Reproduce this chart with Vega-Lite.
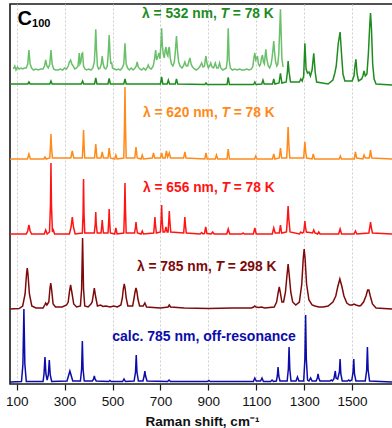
{
"$schema":"https://vega.github.io/schema/vega-lite/v6.json",
"width":384,"height":380,
"padding":{"left":5,"top":4,"right":3,"bottom":0},
"background":"white",
"config":{"view":{"stroke":"#1a1a1a","strokeWidth":1.6},"font":"Liberation Sans"},
"datasets":{
"spec":[
{"s":"b","x":72,"y":2},{"s":"b","x":120,"y":2.5},{"s":"b","x":126,"y":20},{"s":"b","x":130,"y":75},{"s":"b","x":134,"y":20},{"s":"b","x":140,"y":2.5},
{"s":"b","x":210,"y":2.5},{"s":"b","x":214,"y":10},{"s":"b","x":218,"y":27},{"s":"b","x":222,"y":10},{"s":"b","x":227,"y":4},{"s":"b","x":232,"y":9},{"s":"b","x":236,"y":24},{"s":"b","x":240,"y":9},{"s":"b","x":246,"y":2.5},
{"s":"b","x":310,"y":3},{"s":"b","x":316,"y":8},{"s":"b","x":322,"y":13},{"s":"b","x":328,"y":8},{"s":"b","x":334,"y":3},
{"s":"b","x":366,"y":3},{"s":"b","x":371,"y":15},{"s":"b","x":374,"y":43},{"s":"b","x":377,"y":15},{"s":"b","x":382,"y":3},
{"s":"b","x":416,"y":3},{"s":"b","x":421,"y":5},{"s":"b","x":424,"y":8},{"s":"b","x":427,"y":5},{"s":"b","x":432,"y":3},
{"s":"b","x":484,"y":2.5},{"s":"b","x":489,"y":3.5},{"s":"b","x":494,"y":2.5},
{"s":"b","x":542,"y":2.5},{"s":"b","x":548,"y":5},{"s":"b","x":554,"y":2.5},
{"s":"b","x":590,"y":3},{"s":"b","x":596,"y":12},{"s":"b","x":599,"y":29},{"s":"b","x":602,"y":12},{"s":"b","x":608,"y":3},
{"s":"b","x":627,"y":3},{"s":"b","x":632,"y":8},{"s":"b","x":635,"y":13},{"s":"b","x":638,"y":8},{"s":"b","x":644,"y":3},
{"s":"b","x":730,"y":2.5},{"s":"b","x":736,"y":4},{"s":"b","x":742,"y":2.5},
{"s":"b","x":896,"y":2.5},{"s":"b","x":902,"y":3.5},{"s":"b","x":908,"y":2.5},
{"s":"b","x":1088,"y":2.5},{"s":"b","x":1094,"y":6},{"s":"b","x":1100,"y":3},{"s":"b","x":1118,"y":3},{"s":"b","x":1124,"y":6},{"s":"b","x":1130,"y":2.5},
{"s":"b","x":1160,"y":2.5},{"s":"b","x":1166,"y":4},{"s":"b","x":1172,"y":2.5},
{"s":"b","x":1184,"y":3},{"s":"b","x":1188,"y":8},{"s":"b","x":1191,"y":17},{"s":"b","x":1194,"y":8},{"s":"b","x":1199,"y":3},
{"s":"b","x":1229,"y":3},{"s":"b","x":1234,"y":15},{"s":"b","x":1237,"y":37},{"s":"b","x":1240,"y":15},{"s":"b","x":1245,"y":3},
{"s":"b","x":1266,"y":3},{"s":"b","x":1272,"y":7},{"s":"b","x":1278,"y":3},
{"s":"b","x":1298,"y":3},{"s":"b","x":1303,"y":25},{"s":"b","x":1306,"y":69},{"s":"b","x":1309,"y":25},{"s":"b","x":1314,"y":4},{"s":"b","x":1320,"y":3},{"s":"b","x":1327,"y":6},{"s":"b","x":1333,"y":3},
{"s":"b","x":1350,"y":3},{"s":"b","x":1355,"y":6},{"s":"b","x":1358,"y":10},{"s":"b","x":1361,"y":6},{"s":"b","x":1366,"y":3},
{"s":"b","x":1408,"y":3},{"s":"b","x":1413,"y":4},{"s":"b","x":1418,"y":3},{"s":"b","x":1424,"y":5},{"s":"b","x":1430,"y":13},{"s":"b","x":1433,"y":6},{"s":"b","x":1440,"y":5},{"s":"b","x":1447,"y":12},{"s":"b","x":1450,"y":25},{"s":"b","x":1453,"y":10},{"s":"b","x":1459,"y":3},
{"s":"b","x":1481,"y":3},{"s":"b","x":1486,"y":4},{"s":"b","x":1491,"y":3},{"s":"b","x":1499,"y":4},{"s":"b","x":1504,"y":12},{"s":"b","x":1507,"y":25},{"s":"b","x":1510,"y":10},{"s":"b","x":1516,"y":3},
{"s":"b","x":1555,"y":3},{"s":"b","x":1561,"y":14},{"s":"b","x":1564,"y":37},{"s":"b","x":1567,"y":14},{"s":"b","x":1573,"y":3},{"s":"b","x":1675,"y":2},

{"s":"m","x":72,"y":75},{"s":"m","x":110,"y":75.5},{"s":"m","x":125,"y":78},{"s":"m","x":135,"y":90},{"s":"m","x":141,"y":110},{"s":"m","x":144,"y":116},{"s":"m","x":147,"y":110},{"s":"m","x":153,"y":90},{"s":"m","x":163,"y":78},{"s":"m","x":180,"y":76},{"s":"m","x":210,"y":76},{"s":"m","x":217,"y":79},{"s":"m","x":221,"y":81},{"s":"m","x":226,"y":79},{"s":"m","x":234,"y":82},{"s":"m","x":239,"y":96},{"s":"m","x":242,"y":101},{"s":"m","x":245,"y":96},{"s":"m","x":252,"y":80},{"s":"m","x":262,"y":77},{"s":"m","x":290,"y":77},{"s":"m","x":308,"y":79},{"s":"m","x":315,"y":82},{"s":"m","x":320,"y":92},{"s":"m","x":325,"y":99},{"s":"m","x":330,"y":92},{"s":"m","x":338,"y":80},{"s":"m","x":350,"y":77},{"s":"m","x":366,"y":78},{"s":"m","x":371,"y":95},{"s":"m","x":375,"y":146},{"s":"m","x":379,"y":95},{"s":"m","x":384,"y":78},{"s":"m","x":398,"y":77},{"s":"m","x":410,"y":80},{"s":"m","x":415,"y":82},{"s":"m","x":419,"y":88},{"s":"m","x":424,"y":96},{"s":"m","x":429,"y":88},{"s":"m","x":437,"y":78},{"s":"m","x":450,"y":79},{"s":"m","x":460,"y":77.5},{"s":"m","x":472,"y":78},{"s":"m","x":490,"y":77},{"s":"m","x":505,"y":78},{"s":"m","x":520,"y":77},{"s":"m","x":535,"y":79},{"s":"m","x":541,"y":86},{"s":"m","x":545,"y":95},{"s":"m","x":549,"y":100},{"s":"m","x":553,"y":95},{"s":"m","x":557,"y":86},{"s":"m","x":564,"y":78},{"s":"m","x":584,"y":78},{"s":"m","x":590,"y":86},{"s":"m","x":594,"y":92},{"s":"m","x":598,"y":96},{"s":"m","x":602,"y":92},{"s":"m","x":606,"y":85},{"s":"m","x":613,"y":78},{"s":"m","x":628,"y":78},{"s":"m","x":635,"y":81},{"s":"m","x":642,"y":77},{"s":"m","x":700,"y":76},{"s":"m","x":732,"y":77},{"s":"m","x":737,"y":79},{"s":"m","x":742,"y":77},{"s":"m","x":800,"y":76},{"s":"m","x":900,"y":75.5},{"s":"m","x":1000,"y":76},{"s":"m","x":1080,"y":76},{"s":"m","x":1089,"y":77},{"s":"m","x":1094,"y":78},{"s":"m","x":1099,"y":77},{"s":"m","x":1110,"y":76.5},{"s":"m","x":1122,"y":77},{"s":"m","x":1135,"y":76},{"s":"m","x":1175,"y":77},{"s":"m","x":1185,"y":82},{"s":"m","x":1192,"y":92},{"s":"m","x":1196,"y":97},{"s":"m","x":1200,"y":92},{"s":"m","x":1207,"y":82},{"s":"m","x":1214,"y":82},{"s":"m","x":1222,"y":92},{"s":"m","x":1228,"y":108},{"s":"m","x":1233,"y":120},{"s":"m","x":1238,"y":108},{"s":"m","x":1244,"y":92},{"s":"m","x":1252,"y":82},{"s":"m","x":1265,"y":79},{"s":"m","x":1280,"y":82},{"s":"m","x":1290,"y":100},{"s":"m","x":1296,"y":125},{"s":"m","x":1300,"y":135},{"s":"m","x":1304,"y":125},{"s":"m","x":1310,"y":100},{"s":"m","x":1320,"y":84},{"s":"m","x":1333,"y":79},{"s":"m","x":1345,"y":78},{"s":"m","x":1361,"y":77},{"s":"m","x":1380,"y":77},{"s":"m","x":1400,"y":78},{"s":"m","x":1420,"y":82},{"s":"m","x":1432,"y":88},{"s":"m","x":1440,"y":97},{"s":"m","x":1449,"y":105},{"s":"m","x":1458,"y":97},{"s":"m","x":1466,"y":88},{"s":"m","x":1478,"y":81},{"s":"m","x":1490,"y":79},{"s":"m","x":1500,"y":79},{"s":"m","x":1508,"y":80},{"s":"m","x":1516,"y":79},{"s":"m","x":1530,"y":78},{"s":"m","x":1536,"y":78.5},{"s":"m","x":1548,"y":82},{"s":"m","x":1558,"y":88},{"s":"m","x":1565,"y":94},{"s":"m","x":1570,"y":94},{"s":"m","x":1576,"y":88},{"s":"m","x":1585,"y":80},{"s":"m","x":1600,"y":76},{"s":"m","x":1675,"y":75},

{"s":"r","x":72,"y":150},{"s":"r","x":140,"y":150},{"s":"r","x":146,"y":153},{"s":"r","x":151,"y":159},{"s":"r","x":156,"y":153},{"s":"r","x":162,"y":150},{"s":"r","x":215,"y":150},{"s":"r","x":221,"y":154},{"s":"r","x":227,"y":150},{"s":"r","x":237,"y":152},{"s":"r","x":241,"y":180},{"s":"r","x":243,"y":221},{"s":"r","x":245,"y":180},{"s":"r","x":249,"y":152},{"s":"r","x":253,"y":154},{"s":"r","x":258,"y":150},{"s":"r","x":320,"y":150},{"s":"r","x":327,"y":157},{"s":"r","x":332,"y":167},{"s":"r","x":337,"y":157},{"s":"r","x":344,"y":150},{"s":"r","x":374,"y":151},{"s":"r","x":377,"y":170},{"s":"r","x":379,"y":205},{"s":"r","x":381,"y":170},{"s":"r","x":384,"y":151},{"s":"r","x":424,"y":151},{"s":"r","x":428,"y":160},{"s":"r","x":430,"y":172},{"s":"r","x":432,"y":160},{"s":"r","x":436,"y":151},{"s":"r","x":452,"y":151},{"s":"r","x":455,"y":158},{"s":"r","x":457,"y":164},{"s":"r","x":459,"y":158},{"s":"r","x":462,"y":151},{"s":"r","x":481,"y":151},{"s":"r","x":484,"y":162},{"s":"r","x":486,"y":175},{"s":"r","x":488,"y":162},{"s":"r","x":491,"y":151},{"s":"r","x":509,"y":150},{"s":"r","x":514,"y":156},{"s":"r","x":519,"y":150},{"s":"r","x":547,"y":151},{"s":"r","x":550,"y":175},{"s":"r","x":552,"y":201},{"s":"r","x":554,"y":175},{"s":"r","x":557,"y":151},{"s":"r","x":592,"y":151},{"s":"r","x":596,"y":157},{"s":"r","x":598,"y":162},{"s":"r","x":600,"y":157},{"s":"r","x":604,"y":151},{"s":"r","x":619,"y":150},{"s":"r","x":624,"y":153},{"s":"r","x":629,"y":150},{"s":"r","x":672,"y":151},{"s":"r","x":675,"y":160},{"s":"r","x":677,"y":167},{"s":"r","x":679,"y":160},{"s":"r","x":683,"y":151},{"s":"r","x":700,"y":152},{"s":"r","x":703,"y":165},{"s":"r","x":705,"y":179},{"s":"r","x":707,"y":165},{"s":"r","x":711,"y":152},{"s":"r","x":718,"y":152},{"s":"r","x":723,"y":157},{"s":"r","x":728,"y":152},{"s":"r","x":732,"y":152},{"s":"r","x":735,"y":164},{"s":"r","x":737,"y":173},{"s":"r","x":739,"y":164},{"s":"r","x":743,"y":152},{"s":"r","x":797,"y":151},{"s":"r","x":800,"y":160},{"s":"r","x":802,"y":167},{"s":"r","x":804,"y":160},{"s":"r","x":808,"y":151},{"s":"r","x":866,"y":150},{"s":"r","x":872,"y":151.5},{"s":"r","x":878,"y":150},{"s":"r","x":884,"y":150.5},{"s":"r","x":889,"y":157},{"s":"r","x":894,"y":150.5},{"s":"r","x":912,"y":150},{"s":"r","x":918,"y":152},{"s":"r","x":924,"y":150},{"s":"r","x":977,"y":150},{"s":"r","x":983,"y":155},{"s":"r","x":989,"y":150},{"s":"r","x":1040,"y":150},{"s":"r","x":1045,"y":151},{"s":"r","x":1050,"y":150},{"s":"r","x":1088,"y":150},{"s":"r","x":1094,"y":156},{"s":"r","x":1100,"y":150},{"s":"r","x":1167,"y":150},{"s":"r","x":1173,"y":156},{"s":"r","x":1179,"y":151},{"s":"r","x":1196,"y":151},{"s":"r","x":1201,"y":159},{"s":"r","x":1206,"y":151},{"s":"r","x":1226,"y":152},{"s":"r","x":1230,"y":165},{"s":"r","x":1233,"y":178},{"s":"r","x":1236,"y":165},{"s":"r","x":1241,"y":152},{"s":"r","x":1280,"y":150},{"s":"r","x":1286,"y":152},{"s":"r","x":1292,"y":151},{"s":"r","x":1298,"y":152},{"s":"r","x":1301,"y":158},{"s":"r","x":1303,"y":163},{"s":"r","x":1305,"y":158},{"s":"r","x":1309,"y":152},{"s":"r","x":1335,"y":151},{"s":"r","x":1340,"y":154},{"s":"r","x":1345,"y":151},{"s":"r","x":1356,"y":150},{"s":"r","x":1361,"y":152},{"s":"r","x":1366,"y":150},{"s":"r","x":1444,"y":150},{"s":"r","x":1450,"y":155},{"s":"r","x":1456,"y":150},{"s":"r","x":1508,"y":150},{"s":"r","x":1514,"y":153},{"s":"r","x":1520,"y":150},{"s":"r","x":1570,"y":151},{"s":"r","x":1574,"y":157},{"s":"r","x":1577,"y":162},{"s":"r","x":1580,"y":157},{"s":"r","x":1585,"y":151},{"s":"r","x":1675,"y":150},

{"s":"o","x":72,"y":225},{"s":"o","x":145,"y":225},{"s":"o","x":151,"y":230},{"s":"o","x":157,"y":225},{"s":"o","x":213,"y":225},{"s":"o","x":218,"y":227},{"s":"o","x":223,"y":225},{"s":"o","x":238,"y":226},{"s":"o","x":241,"y":238},{"s":"o","x":243,"y":250},{"s":"o","x":245,"y":238},{"s":"o","x":249,"y":226},{"s":"o","x":326,"y":226},{"s":"o","x":332,"y":233},{"s":"o","x":338,"y":226},{"s":"o","x":374,"y":226},{"s":"o","x":377,"y":240},{"s":"o","x":379,"y":254},{"s":"o","x":381,"y":240},{"s":"o","x":384,"y":226},{"s":"o","x":425,"y":226},{"s":"o","x":430,"y":240},{"s":"o","x":435,"y":226},{"s":"o","x":452,"y":226},{"s":"o","x":457,"y":232},{"s":"o","x":462,"y":226},{"s":"o","x":481,"y":226},{"s":"o","x":486,"y":236},{"s":"o","x":491,"y":226},{"s":"o","x":509,"y":225},{"s":"o","x":514,"y":229},{"s":"o","x":519,"y":225},{"s":"o","x":547,"y":226},{"s":"o","x":550,"y":260},{"s":"o","x":552,"y":297},{"s":"o","x":554,"y":260},{"s":"o","x":557,"y":226},{"s":"o","x":593,"y":226},{"s":"o","x":598,"y":237},{"s":"o","x":603,"y":226},{"s":"o","x":619,"y":225},{"s":"o","x":624,"y":229},{"s":"o","x":629,"y":225},{"s":"o","x":666,"y":226},{"s":"o","x":671,"y":231},{"s":"o","x":676,"y":226},{"s":"o","x":700,"y":226},{"s":"o","x":705,"y":231},{"s":"o","x":710,"y":226},{"s":"o","x":720,"y":226},{"s":"o","x":725,"y":233},{"s":"o","x":730,"y":227},{"s":"o","x":737,"y":231},{"s":"o","x":742,"y":226},{"s":"o","x":797,"y":226},{"s":"o","x":802,"y":232},{"s":"o","x":807,"y":226},{"s":"o","x":885,"y":225},{"s":"o","x":890,"y":231},{"s":"o","x":895,"y":225},{"s":"o","x":929,"y":225},{"s":"o","x":934,"y":229},{"s":"o","x":939,"y":225},{"s":"o","x":978,"y":225},{"s":"o","x":983,"y":235},{"s":"o","x":988,"y":225},{"s":"o","x":1093,"y":225},{"s":"o","x":1098,"y":228},{"s":"o","x":1103,"y":225},{"s":"o","x":1168,"y":225},{"s":"o","x":1173,"y":230},{"s":"o","x":1178,"y":225},{"s":"o","x":1196,"y":226},{"s":"o","x":1201,"y":236},{"s":"o","x":1206,"y":226},{"s":"o","x":1227,"y":226},{"s":"o","x":1230,"y":240},{"s":"o","x":1233,"y":257},{"s":"o","x":1236,"y":240},{"s":"o","x":1240,"y":226},{"s":"o","x":1298,"y":226},{"s":"o","x":1300,"y":233},{"s":"o","x":1303,"y":242},{"s":"o","x":1306,"y":233},{"s":"o","x":1310,"y":226},{"s":"o","x":1333,"y":225},{"s":"o","x":1338,"y":230},{"s":"o","x":1343,"y":225},{"s":"o","x":1446,"y":225},{"s":"o","x":1451,"y":228},{"s":"o","x":1456,"y":225},{"s":"o","x":1509,"y":225},{"s":"o","x":1514,"y":232},{"s":"o","x":1519,"y":226},{"s":"o","x":1545,"y":225},{"s":"o","x":1550,"y":229},{"s":"o","x":1555,"y":226},{"s":"o","x":1572,"y":226},{"s":"o","x":1577,"y":234},{"s":"o","x":1582,"y":226},{"s":"o","x":1675,"y":225},

{"s":"g1","x":72,"y":300},{"s":"g1","x":146,"y":300},{"s":"g1","x":151,"y":302},{"s":"g1","x":156,"y":300},{"s":"g1","x":238,"y":300},{"s":"g1","x":243,"y":303},{"s":"g1","x":248,"y":300},{"s":"g1","x":370,"y":300},{"s":"g1","x":375,"y":303},{"s":"g1","x":380,"y":300},{"s":"g1","x":425,"y":300},{"s":"g1","x":430,"y":306},{"s":"g1","x":435,"y":300},{"s":"g1","x":481,"y":300},{"s":"g1","x":486,"y":305.5},{"s":"g1","x":491,"y":300},{"s":"g1","x":547,"y":300},{"s":"g1","x":552,"y":305},{"s":"g1","x":557,"y":300},{"s":"g1","x":700,"y":300},{"s":"g1","x":705,"y":307},{"s":"g1","x":710,"y":300},{"s":"g1","x":728,"y":300},{"s":"g1","x":733,"y":304},{"s":"g1","x":738,"y":300},{"s":"g1","x":762,"y":300},{"s":"g1","x":767,"y":305},{"s":"g1","x":772,"y":300},{"s":"g1","x":885,"y":299.5},{"s":"g1","x":890,"y":301},{"s":"g1","x":895,"y":299.5},{"s":"g1","x":978,"y":299.5},{"s":"g1","x":983,"y":306.7},{"s":"g1","x":988,"y":299.5},{"s":"g1","x":1089,"y":299.5},{"s":"g1","x":1094,"y":302},{"s":"g1","x":1099,"y":299.5},{"s":"g1","x":1123,"y":300},{"s":"g1","x":1128,"y":304},{"s":"g1","x":1133,"y":300},{"s":"g1","x":1168,"y":300},{"s":"g1","x":1173,"y":305},{"s":"g1","x":1178,"y":300},{"s":"g1","x":1195,"y":301},{"s":"g1","x":1201,"y":310.7},{"s":"g1","x":1207,"y":301},{"s":"g1","x":1225,"y":302},{"s":"g1","x":1230,"y":312},{"s":"g1","x":1233,"y":323},{"s":"g1","x":1237,"y":312},{"s":"g1","x":1243,"y":302},{"s":"g1","x":1280,"y":302},{"s":"g1","x":1286,"y":305},{"s":"g1","x":1292,"y":303},{"s":"g1","x":1298,"y":308},{"s":"g1","x":1303,"y":340.7},{"s":"g1","x":1308,"y":315},{"s":"g1","x":1314,"y":311},{"s":"g1","x":1320,"y":312},{"s":"g1","x":1326,"y":308},{"s":"g1","x":1333,"y":314},{"s":"g1","x":1340,"y":330.7},{"s":"g1","x":1346,"y":312},{"s":"g1","x":1352,"y":302},{"s":"g1","x":1400,"y":300},{"s":"g1","x":1420,"y":304},{"s":"g1","x":1428,"y":311},{"s":"g1","x":1434,"y":318},{"s":"g1","x":1442,"y":340},{"s":"g1","x":1450,"y":352},{"s":"g1","x":1456,"y":330},{"s":"g1","x":1462,"y":310},{"s":"g1","x":1470,"y":303},{"s":"g1","x":1500,"y":303},{"s":"g1","x":1508,"y":308},{"s":"g1","x":1512,"y":318},{"s":"g1","x":1516,"y":324.7},{"s":"g1","x":1521,"y":310},{"s":"g1","x":1527,"y":303},{"s":"g1","x":1540,"y":305},{"s":"g1","x":1545,"y":308},{"s":"g1","x":1550,"y":313},{"s":"g1","x":1555,"y":308},{"s":"g1","x":1562,"y":310},{"s":"g1","x":1568,"y":330},{"s":"g1","x":1574,"y":360},{"s":"g1","x":1577,"y":371},{"s":"g1","x":1581,"y":355},{"s":"g1","x":1586,"y":320},{"s":"g1","x":1592,"y":305},{"s":"g1","x":1600,"y":300},{"s":"g1","x":1675,"y":299},

{"s":"g2","x":86,"y":315},{"s":"g2","x":92,"y":318},{"s":"g2","x":97,"y":314},{"s":"g2","x":103,"y":317},{"s":"g2","x":110,"y":315},{"s":"g2","x":118,"y":316},{"s":"g2","x":125,"y":315},{"s":"g2","x":132,"y":316},{"s":"g2","x":140,"y":316},{"s":"g2","x":146,"y":320},{"s":"g2","x":151,"y":334},{"s":"g2","x":156,"y":320},{"s":"g2","x":162,"y":316},{"s":"g2","x":170,"y":314},{"s":"g2","x":180,"y":315},{"s":"g2","x":190,"y":314},{"s":"g2","x":200,"y":315},{"s":"g2","x":210,"y":315},{"s":"g2","x":216,"y":318},{"s":"g2","x":221,"y":324},{"s":"g2","x":226,"y":318},{"s":"g2","x":232,"y":316},{"s":"g2","x":238,"y":320},{"s":"g2","x":243,"y":334},{"s":"g2","x":248,"y":320},{"s":"g2","x":254,"y":315},{"s":"g2","x":262,"y":314},{"s":"g2","x":272,"y":314},{"s":"g2","x":282,"y":315},{"s":"g2","x":292,"y":314},{"s":"g2","x":300,"y":316},{"s":"g2","x":308,"y":315},{"s":"g2","x":315,"y":318},{"s":"g2","x":320,"y":322},{"s":"g2","x":325,"y":324},{"s":"g2","x":330,"y":320},{"s":"g2","x":336,"y":318},{"s":"g2","x":342,"y":315},{"s":"g2","x":350,"y":316},{"s":"g2","x":356,"y":318},{"s":"g2","x":361,"y":331},{"s":"g2","x":364,"y":320},{"s":"g2","x":368,"y":322},{"s":"g2","x":371,"y":330},{"s":"g2","x":375,"y":331},{"s":"g2","x":379,"y":318},{"s":"g2","x":385,"y":315},{"s":"g2","x":392,"y":314},{"s":"g2","x":400,"y":315},{"s":"g2","x":410,"y":314},{"s":"g2","x":418,"y":316},{"s":"g2","x":424,"y":322},{"s":"g2","x":427,"y":335},{"s":"g2","x":430,"y":354.7},{"s":"g2","x":433,"y":335},{"s":"g2","x":437,"y":318},{"s":"g2","x":442,"y":315},{"s":"g2","x":448,"y":316},{"s":"g2","x":453,"y":320},{"s":"g2","x":457,"y":328},{"s":"g2","x":461,"y":320},{"s":"g2","x":466,"y":316},{"s":"g2","x":472,"y":315},{"s":"g2","x":478,"y":318},{"s":"g2","x":482,"y":330},{"s":"g2","x":486,"y":349},{"s":"g2","x":490,"y":328},{"s":"g2","x":493,"y":320},{"s":"g2","x":496,"y":322},{"s":"g2","x":500,"y":316},{"s":"g2","x":508,"y":315},{"s":"g2","x":516,"y":314},{"s":"g2","x":524,"y":315},{"s":"g2","x":532,"y":314},{"s":"g2","x":540,"y":316},{"s":"g2","x":547,"y":320},{"s":"g2","x":552,"y":340.7},{"s":"g2","x":557,"y":320},{"s":"g2","x":563,"y":316},{"s":"g2","x":570,"y":314},{"s":"g2","x":578,"y":316},{"s":"g2","x":586,"y":314},{"s":"g2","x":594,"y":316},{"s":"g2","x":599,"y":318},{"s":"g2","x":603,"y":322},{"s":"g2","x":607,"y":317},{"s":"g2","x":614,"y":315},{"s":"g2","x":622,"y":314},{"s":"g2","x":630,"y":316},{"s":"g2","x":638,"y":314},{"s":"g2","x":644,"y":316},{"s":"g2","x":649,"y":319},{"s":"g2","x":654,"y":316},{"s":"g2","x":662,"y":315},{"s":"g2","x":670,"y":318},{"s":"g2","x":676,"y":326},{"s":"g2","x":680,"y":334},{"s":"g2","x":684,"y":324},{"s":"g2","x":690,"y":328},{"s":"g2","x":694,"y":331},{"s":"g2","x":698,"y":325},{"s":"g2","x":702,"y":340},{"s":"g2","x":705,"y":355.7},{"s":"g2","x":708,"y":338},{"s":"g2","x":712,"y":330},{"s":"g2","x":716,"y":326},{"s":"g2","x":720,"y":334},{"s":"g2","x":723,"y":337},{"s":"g2","x":727,"y":330},{"s":"g2","x":731,"y":328},{"s":"g2","x":734,"y":335},{"s":"g2","x":737,"y":337},{"s":"g2","x":741,"y":326},{"s":"g2","x":746,"y":320},{"s":"g2","x":752,"y":318},{"s":"g2","x":758,"y":322},{"s":"g2","x":762,"y":332},{"s":"g2","x":767,"y":348},{"s":"g2","x":771,"y":334},{"s":"g2","x":776,"y":322},{"s":"g2","x":782,"y":318},{"s":"g2","x":790,"y":316},{"s":"g2","x":796,"y":318},{"s":"g2","x":802,"y":322},{"s":"g2","x":808,"y":318},{"s":"g2","x":814,"y":318},{"s":"g2","x":818,"y":322},{"s":"g2","x":823,"y":326},{"s":"g2","x":828,"y":320},{"s":"g2","x":834,"y":317},{"s":"g2","x":842,"y":315},{"s":"g2","x":850,"y":314},{"s":"g2","x":860,"y":316},{"s":"g2","x":866,"y":318},{"s":"g2","x":872,"y":321},{"s":"g2","x":878,"y":317},{"s":"g2","x":884,"y":318},{"s":"g2","x":887,"y":324},{"s":"g2","x":890,"y":328},{"s":"g2","x":894,"y":321},{"s":"g2","x":900,"y":316},{"s":"g2","x":905,"y":318},{"s":"g2","x":910,"y":321},{"s":"g2","x":915,"y":317},{"s":"g2","x":922,"y":316},{"s":"g2","x":929,"y":321},{"s":"g2","x":935,"y":316},{"s":"g2","x":941,"y":316},{"s":"g2","x":947,"y":321},{"s":"g2","x":952,"y":316},{"s":"g2","x":960,"y":314},{"s":"g2","x":968,"y":315},{"s":"g2","x":975,"y":316},{"s":"g2","x":979,"y":324},{"s":"g2","x":983,"y":355.7},{"s":"g2","x":987,"y":324},{"s":"g2","x":992,"y":316},{"s":"g2","x":1000,"y":314},{"s":"g2","x":1010,"y":315},{"s":"g2","x":1020,"y":314},{"s":"g2","x":1030,"y":315},{"s":"g2","x":1040,"y":314},{"s":"g2","x":1050,"y":314},{"s":"g2","x":1060,"y":315},{"s":"g2","x":1070,"y":314},{"s":"g2","x":1080,"y":315},{"s":"g2","x":1086,"y":318},{"s":"g2","x":1090,"y":326},{"s":"g2","x":1094,"y":331},{"s":"g2","x":1098,"y":324},{"s":"g2","x":1102,"y":326},{"s":"g2","x":1105,"y":328},{"s":"g2","x":1109,"y":320},{"s":"g2","x":1114,"y":318},{"s":"g2","x":1118,"y":320},{"s":"g2","x":1122,"y":326},{"s":"g2","x":1126,"y":329},{"s":"g2","x":1130,"y":322},{"s":"g2","x":1134,"y":320},{"s":"g2","x":1137,"y":328},{"s":"g2","x":1140,"y":334.7},{"s":"g2","x":1144,"y":325},{"s":"g2","x":1150,"y":318},{"s":"g2","x":1156,"y":316},{"s":"g2","x":1162,"y":320},{"s":"g2","x":1166,"y":326},{"s":"g2","x":1170,"y":335},{"s":"g2","x":1173,"y":343},{"s":"g2","x":1176,"y":333},{"s":"g2","x":1181,"y":322},{"s":"g2","x":1186,"y":318},{"s":"g2","x":1190,"y":320},{"s":"g2","x":1194,"y":330},{"s":"g2","x":1198,"y":355},{"s":"g2","x":1201,"y":374.7},{"s":"g2","x":1204,"y":350},{"s":"g2","x":1207,"y":325},{"s":"g2","x":1212,"y":317}
],
"labels":[
{"s":"g1","x":951,"y":370,"pre":"λ = 532 nm,","post":"= 78 K"},
{"s":"o","x":955,"y":271,"pre":"λ = 620 nm,","post":"= 78 K"},
{"s":"r","x":955,"y":196,"pre":"λ = 656 nm,","post":"= 78 K"},
{"s":"m","x":930,"y":117,"pre":"λ = 785 nm,","post":"= 298 K"}
],
"calc":[{"s":"b","x":882,"y":47,"t":"calc. 785 nm, off-resonance"}],
"title":[{"x":103,"y":365,"t":"C","x2":164,"y2":360,"sub":"100"}]
},
"layer":[
{"data":{"name":"spec"},"mark":{"type":"line","strokeWidth":1.5,"clip":true},
 "encoding":{
  "x":{"field":"x","type":"quantitative","scale":{"domain":[72,1675],"nice":false,"zero":false},
   "axis":{"values":[100,150,200,250,300,350,400,450,500,550,600,650,700,750,800,850,900,950,1000,1050,1100,1150,1200,1250,1300,1350,1400,1450,1500,1550,1600,1650],
    "labelExpr":"(datum.value - 100) % 200 == 0 ? datum.value + '' : ''",
    "title":"Raman shift, cm⁻¹","grid":true,"gridDash":[2,2],"gridColor":"#cfcfcf","gridWidth":1,
    "domain":false,"tickColor":"#1a1a1a","tickSize":6,"tickWidth":1.2,"labelColor":"#111","labelFontSize":13.5,"labelPadding":4,"labelFont":"Liberation Sans",
    "titleFont":"Liberation Sans","titleFontSize":13.5,"titleFontWeight":"bold","titleColor":"#111","titlePadding":7,"labelOverlap":false,"labelFlush":false}},
  "y":{"field":"y","type":"quantitative","scale":{"domain":[0,380],"nice":false,"zero":false},"axis":null},
  "color":{"field":"s","type":"nominal","scale":{"domain":["g2","g1","o","r","m","b"],"range":["#6abf6a","#1e8c1e","#ff8a1a","#ff1414","#7d0a0a","#0c0caa"]},"legend":null},
  "detail":{"field":"s"}
 }},
{"data":{"name":"labels"},"mark":{"type":"text","align":"right","baseline":"middle","dx":-3.8,"fontSize":13.8,"fontWeight":"bold","font":"Liberation Sans"},
 "encoding":{"x":{"field":"x","type":"quantitative"},"y":{"field":"y","type":"quantitative"},"text":{"field":"pre"},"color":{"field":"s","type":"nominal","legend":null}}},
{"data":{"name":"labels"},"mark":{"type":"text","align":"left","baseline":"middle","fontSize":13.8,"fontWeight":"bold","fontStyle":"italic","font":"Liberation Sans"},
 "encoding":{"x":{"field":"x","type":"quantitative"},"y":{"field":"y","type":"quantitative"},"text":{"value":"T"},"color":{"field":"s","type":"nominal","legend":null}}},
{"data":{"name":"labels"},"mark":{"type":"text","align":"left","baseline":"middle","dx":12.2,"fontSize":13.8,"fontWeight":"bold","font":"Liberation Sans"},
 "encoding":{"x":{"field":"x","type":"quantitative"},"y":{"field":"y","type":"quantitative"},"text":{"field":"post"},"color":{"field":"s","type":"nominal","legend":null}}},
{"data":{"name":"calc"},"mark":{"type":"text","align":"center","baseline":"middle","fontSize":14,"fontWeight":"bold","font":"Liberation Sans"},
 "encoding":{"x":{"field":"x","type":"quantitative"},"y":{"field":"y","type":"quantitative"},"text":{"field":"t"},"color":{"field":"s","type":"nominal","legend":null}}},
{"data":{"name":"title"},"mark":{"type":"text","align":"left","baseline":"middle","fontSize":20,"fontWeight":"bold","font":"Liberation Sans","color":"#000"},
 "encoding":{"x":{"field":"x","type":"quantitative"},"y":{"field":"y","type":"quantitative"},"text":{"field":"t"}}},
{"data":{"name":"title"},"mark":{"type":"text","align":"left","baseline":"middle","fontSize":11,"fontWeight":"bold","font":"Liberation Sans","color":"#000"},
 "encoding":{"x":{"field":"x2","type":"quantitative"},"y":{"field":"y2","type":"quantitative"},"text":{"field":"sub"}}}
]
}
